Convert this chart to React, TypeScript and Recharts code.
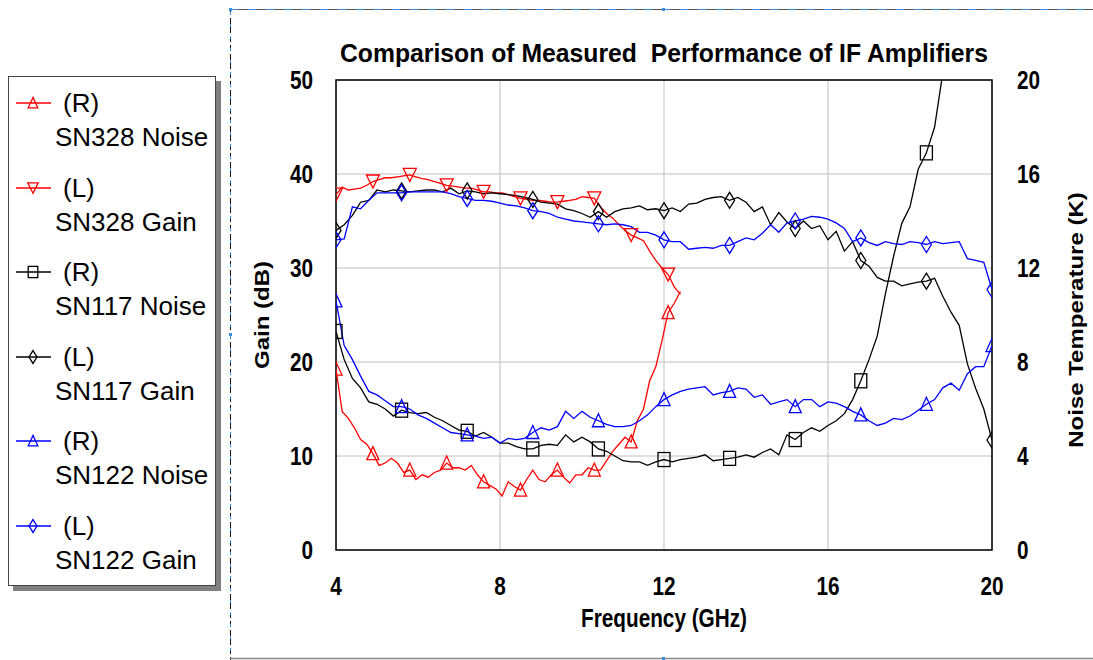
import React from "react";
import {
  LineChart,
  Line,
  XAxis,
  YAxis,
  CartesianGrid,
  ReferenceArea,
} from "recharts";

// sampling grids (GHz)
const RED_FREQ = Array.from({ length: 57 }, (_, i) => +(4 + i * 0.15).toFixed(2));
const FREQ = Array.from({ length: 81 }, (_, i) => +(4 + i * 0.2).toFixed(1));

// SN328 (red), measured to ~12.4 GHz
const SN328_NOISE = [
  7.7, 5.9, 5.6, 5.2, 4.7, 4.5, 4.1, 3.6, 3.7, 3.9,
  3.7, 3.3, 3.4, 3.0, 3.2, 3.1, 3.3, 3.4, 3.7, 3.5,
  3.5, 3.4, 3.6, 3.2, 2.9, 2.75, 2.6, 2.3, 2.9, 2.7,
  2.55, 3.0, 3.4, 3.0, 2.9, 3.2, 3.4, 3.1, 2.85, 3.2,
  3.2, 3.5, 3.4, 3.4, 3.8, 4.2, 4.5, 4.8, 4.6, 5.5,
  6.0, 7.2, 7.8, 8.9, 10.1, 10.5, 11.0,
];
const SN328_GAIN = [
  37.8, 38.6, 38.3, 38.4, 38.5, 38.8, 39.2, 39.4, 39.6, 39.6,
  39.7, 39.8, 39.9, 39.7, 39.5, 39.4, 39.2, 39.0, 38.8, 38.7,
  38.6, 38.5, 38.5, 38.3, 38.1, 38.1, 38.0, 38.0, 37.8, 37.6,
  37.4, 37.3, 37.2, 37.2, 37.1, 37.0, 37.0, 37.1, 37.2, 37.3,
  37.6, 37.5, 37.4, 36.5, 35.8, 35.3, 34.6, 34.0, 33.5, 33.2,
  32.9, 31.8, 30.8, 30.0, 29.3, 28.0, 27.2,
];

// SN117 (black)
const SN117_NOISE = [
  9.3, 8.1, 7.3, 6.9, 6.3, 6.2, 6.0, 5.7, 5.95, 5.85,
  5.8, 5.85, 5.65, 5.5, 5.3, 5.1, 5.05, 4.85, 5.0, 4.8,
  4.55, 4.55, 4.4, 4.3, 4.3, 4.45, 4.5, 4.45, 4.9, 4.6,
  4.8, 4.6, 4.3, 4.2, 4.0, 3.8, 3.75, 3.75, 3.6, 3.75,
  3.85, 3.75, 3.85, 3.9, 3.95, 4.05, 3.8, 3.85, 3.9, 3.95,
  4.05, 3.95, 4.15, 4.3, 4.05, 4.9, 4.7, 5.0, 5.2, 5.05,
  5.3, 5.5, 5.8, 6.4, 7.2, 8.1, 9.1, 10.9, 12.5, 13.9,
  14.6, 16.2, 16.9, 18.0, 20.3, 22.0,
];
const SN117_GAIN = [
  34.0, 34.6, 35.6, 37.0, 37.2, 38.3, 38.1, 38.3, 38.2, 38.1,
  38.2, 38.3, 38.3, 38.1, 38.5, 37.9, 38.2, 38.1, 37.9, 38.0,
  37.9, 37.8, 37.7, 37.5, 37.3, 37.0, 36.9, 36.8, 36.3, 36.1,
  35.8, 35.4, 36.0, 35.4, 36.0, 36.3, 36.4, 36.6, 36.2, 36.3,
  36.1, 36.4, 36.0, 36.8, 36.9, 37.3, 37.5, 37.6, 37.2, 37.5,
  37.0, 36.0, 36.5, 34.6, 35.9, 34.9, 34.2, 35.0, 34.2, 34.5,
  33.0, 33.9, 31.8, 32.8, 30.8, 30.2, 29.0, 28.6, 28.6, 28.1,
  28.3, 28.5, 28.6, 28.9, 27.0, 25.3, 23.9, 19.8, 17.2, 15.0,
  11.7,
];

// SN122 (blue)
const SN122_NOISE = [
  10.6, 8.7, 8.1, 7.4, 6.75, 6.6, 6.35, 6.1, 6.1, 6.0,
  5.75, 5.6, 5.4, 5.2, 5.0, 4.95, 4.9, 4.85, 4.75, 4.8,
  4.55, 4.75, 4.7, 4.75, 5.0, 5.2, 5.1, 5.25, 5.9, 5.6,
  5.9, 5.65, 5.5, 5.35, 5.25, 5.25, 5.3, 5.5, 5.75, 6.1,
  6.4, 6.6, 6.75, 6.85, 6.9, 6.95, 6.6, 6.7, 6.75, 6.9,
  6.85, 6.5, 6.6, 6.2, 6.3, 6.4, 6.1, 6.4, 6.4, 6.1,
  6.3, 6.25, 6.1, 5.9, 5.75, 5.5, 5.3, 5.4, 5.6, 5.55,
  5.7, 5.95, 6.2, 6.4, 6.9, 7.1, 6.8, 7.5, 7.8, 7.8,
  8.7,
];
const SN122_GAIN = [
  33.0, 33.1, 36.5, 36.3, 37.2, 38.0, 38.0, 38.0, 38.0, 38.1,
  38.1, 38.1, 38.1, 38.1, 37.9, 37.6, 37.4, 37.2, 37.2, 37.1,
  36.9, 36.7, 36.6, 36.4, 36.1, 36.0, 35.8, 35.4, 35.2, 35.0,
  34.9, 34.8, 34.7, 34.6, 34.7, 34.6, 34.4, 33.8, 33.8, 33.5,
  33.0, 32.8, 32.8, 32.0, 32.1, 32.2, 32.1, 32.4, 32.4, 32.8,
  33.2, 33.0, 33.7, 34.6, 33.8, 34.8, 35.0, 35.2, 35.5, 35.4,
  35.2, 34.8, 34.2, 32.8, 33.2, 32.7, 32.4, 32.8, 32.6, 32.5,
  32.8, 32.7, 32.5, 32.8, 32.6, 32.7, 32.8, 31.0, 30.8, 30.6,
  27.7,
];

const X_TICKS = [4, 8, 12, 16, 20];
const GAIN_TICKS = [0, 10, 20, 30, 40, 50];
const NOISE_TICKS = [0, 4, 8, 12, 16, 20];

const FONT = '"Liberation Sans", Arial, sans-serif';
const SQUEEZE = 0.83;

type Shape = "up" | "down" | "square" | "diamond";

const SERIES: {
  tag: string;
  name: string;
  color: string;
  shape: Shape;
  axis: "left" | "right";
  freq: number[];
  values: number[];
  every: number;
}[] = [
  { tag: "(R)", name: "SN328 Noise", color: "#ff0000", shape: "up", axis: "right", freq: RED_FREQ, values: SN328_NOISE, every: 6 },
  { tag: "(L)", name: "SN328 Gain", color: "#ff0000", shape: "down", axis: "left", freq: RED_FREQ, values: SN328_GAIN, every: 6 },
  { tag: "(R)", name: "SN117 Noise", color: "#000000", shape: "square", axis: "right", freq: FREQ, values: SN117_NOISE, every: 8 },
  { tag: "(L)", name: "SN117 Gain", color: "#000000", shape: "diamond", axis: "left", freq: FREQ, values: SN117_GAIN, every: 8 },
  { tag: "(R)", name: "SN122 Noise", color: "#0000ff", shape: "up", axis: "right", freq: FREQ, values: SN122_NOISE, every: 8 },
  { tag: "(L)", name: "SN122 Gain", color: "#0000ff", shape: "diamond", axis: "left", freq: FREQ, values: SN122_GAIN, every: 8 },
];

function Marker({ shape, cx, cy, color, k = 1 }: { shape: Shape; cx: number; cy: number; color: string; k?: number }) {
  const common = { fill: "none", stroke: color, strokeWidth: 1.3 };
  if (shape === "up")
    return <polygon {...common} points={`${cx},${cy - 7 * k} ${cx - 6 * k},${cy + 6 * k} ${cx + 6 * k},${cy + 6 * k}`} />;
  if (shape === "down")
    return <polygon {...common} points={`${cx - 6.5 * k},${cy - 6.5 * k} ${cx + 6.5 * k},${cy - 6.5 * k} ${cx},${cy + 6.5 * k}`} />;
  if (shape === "square")
    return <rect {...common} x={cx - 6 * k} y={cy - 7 * k} width={12 * k} height={14 * k} />;
  return <polygon {...common} points={`${cx},${cy - 8 * k} ${cx + 5 * k},${cy} ${cx},${cy + 8 * k} ${cx - 5 * k},${cy}`} />;
}

const markerDot = (shape: Shape, color: string, every: number) => (props: any) => {
  const { cx, cy, index } = props;
  if (index % every !== 0 || cx == null || cy == null) return <g key={`m-${index}`} />;
  return (
    <g key={`m-${index}`}>
      <Marker shape={shape} cx={cx} cy={cy} color={color} />
    </g>
  );
};

const tickText = (anchor: "start" | "middle" | "end") => (p: any) => (
  <g transform={`translate(${p.x},${p.y}) scale(${SQUEEZE},1)`}>
    <text textAnchor={anchor} dy="0.36em" fontSize={25} fontWeight="bold" fontFamily={FONT} fill="#000">
      {p.payload.value}
    </text>
  </g>
);

function Legend() {
  return (
    <div
      style={{
        position: "absolute",
        left: 8,
        top: 76,
        width: 206,
        height: 508,
        border: "1px solid #444",
        background: "#fff",
        boxShadow: "5px 5px 0 #808080",
        fontFamily: FONT,
        fontSize: 26,
        color: "#000",
      }}
    >
      {SERIES.map((s, i) => {
        const y = 26 + i * 84.5;
        return (
          <div key={s.name}>
            <svg style={{ position: "absolute", left: 6, top: y - 10 }} width={38} height={20}>
              <line x1={1} x2={36} y1={10} y2={10} stroke={s.color} strokeWidth={1.3} />
              <Marker shape={s.shape} cx={18} cy={10} color={s.color} k={0.8} />
            </svg>
            <div style={{ position: "absolute", left: 54, top: y - 15, lineHeight: "30px", whiteSpace: "nowrap" }}>{s.tag}</div>
            <div style={{ position: "absolute", left: 46, top: y + 19, lineHeight: "30px", whiteSpace: "nowrap" }}>{s.name}</div>
          </div>
        );
      })}
    </div>
  );
}

function Overlay() {
  const bold = { fontFamily: FONT, fontWeight: "bold" as const, fill: "#000" };
  return (
    <svg width={1093} height={660} style={{ position: "absolute", left: 0, top: 0, pointerEvents: "none" }}>
      {/* page frame */}
      <line x1={230} x2={1093} y1={9.5} y2={9.5} stroke="#555" strokeWidth={1} />
      <line x1={230} x2={1093} y1={9.5} y2={9.5} stroke="#3a8ee6" strokeWidth={1} strokeDasharray="8 10" />
      <line x1={230.5} x2={230.5} y1={9} y2={660} stroke="#111" strokeWidth={1} strokeDasharray="6 3" />
      <line x1={230.5} x2={230.5} y1={12} y2={660} stroke="#3a8ee6" strokeWidth={1} strokeDasharray="3 9" />
      <line x1={230} x2={1093} y1={658.5} y2={658.5} stroke="#888" strokeWidth={1.5} />
      <rect x={229} y={8} width={3} height={3} fill="#3a8ee6" />
      <rect x={662} y={8} width={3} height={3} fill="#3a8ee6" />
      <rect x={229} y={333} width={3} height={3} fill="#3a8ee6" />
      <rect x={662} y={657} width={3} height={3} fill="#3a8ee6" />

      <text x={340} y={62} fontSize={26} textLength={648} lengthAdjust="spacingAndGlyphs" {...bold}>
        Comparison of Measured{"\u00a0"} Performance of IF Amplifiers
      </text>
      <g transform={`translate(664,627) scale(${SQUEEZE},1)`}>
        <text textAnchor="middle" fontSize={25} {...bold}>Frequency (GHz)</text>
      </g>
      <g transform={`translate(262,315) rotate(-90) scale(1,${SQUEEZE})`}>
        <text textAnchor="middle" dy="0.36em" fontSize={24} {...bold}>Gain (dB)</text>
      </g>
      <g transform={`translate(1076,320) rotate(-90) scale(1,${SQUEEZE})`}>
        <text textAnchor="middle" dy="0.36em" fontSize={24} {...bold}>Noise Temperature (K)</text>
      </g>
    </svg>
  );
}

export default function App() {
  return (
    <div style={{ position: "absolute", left: 0, top: 0, width: 1093, height: 660, background: "#fff" }}>
      <LineChart width={1093} height={660} margin={{ top: 80, right: 41, bottom: 50, left: 276 }}>
        <CartesianGrid yAxisId="left" stroke="#c0c0c0" strokeWidth={1} />
        <XAxis
          dataKey="f"
          type="number"
          domain={[4, 20]}
          ticks={X_TICKS}
          allowDataOverflow
          axisLine={false}
          tickLine={false}
          tickSize={0}
          tickMargin={36}
          height={60}
          tick={tickText("middle")}
        />
        <YAxis
          yAxisId="left"
          type="number"
          domain={[0, 50]}
          ticks={GAIN_TICKS}
          allowDataOverflow
          axisLine={false}
          tickLine={false}
          tickSize={0}
          tickMargin={23}
          width={60}
          tick={tickText("end")}
        />
        <YAxis
          yAxisId="right"
          orientation="right"
          type="number"
          domain={[0, 20]}
          ticks={NOISE_TICKS}
          allowDataOverflow
          axisLine={false}
          tickLine={false}
          tickSize={0}
          tickMargin={25}
          width={60}
          tick={tickText("start")}
        />
        <ReferenceArea
          yAxisId="left"
          x1={4}
          x2={20}
          y1={0}
          y2={50}
          fill="none"
          fillOpacity={0}
          stroke="#000"
          strokeWidth={1.5}
          ifOverflow="visible"
        />
        {SERIES.map((s) => (
          <Line
            key={s.name}
            data={s.freq.map((f, i) => ({ f, v: s.values[i] }))}
            dataKey="v"
            name={s.name}
            yAxisId={s.axis}
            type="linear"
            stroke={s.color}
            strokeWidth={1.3}
            dot={markerDot(s.shape, s.color, s.every)}
            activeDot={false}
            isAnimationActive={false}
          />
        ))}
      </LineChart>
      <Legend />
      <Overlay />
    </div>
  );
}
